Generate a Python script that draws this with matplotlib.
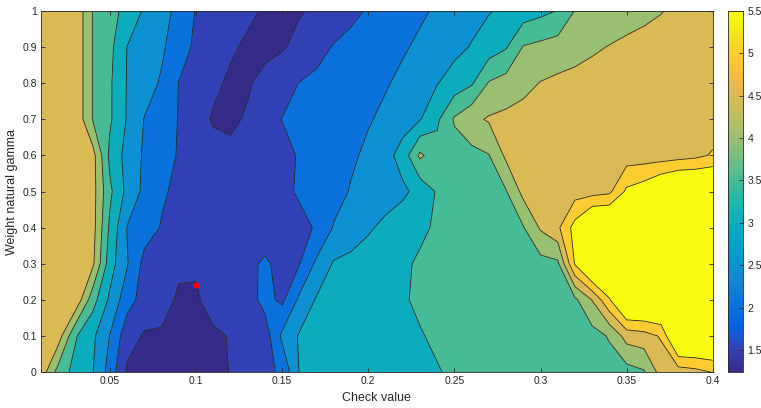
import numpy as np
import matplotlib
matplotlib.use("Agg")
import matplotlib.pyplot as plt
from matplotlib.colors import LinearSegmentedColormap, Normalize
from matplotlib.cm import ScalarMappable

plt.rcParams["font.family"] = ["Liberation Sans", "DejaVu Sans"]

# grid
check_value = [0.01, 0.02, 0.03, 0.04, 0.05, 0.06, 0.07, 0.08, 0.09, 0.10,
               0.11, 0.12, 0.13, 0.14, 0.15, 0.16, 0.17, 0.18, 0.19, 0.20,
               0.21, 0.22, 0.23, 0.24, 0.25, 0.26, 0.27, 0.28, 0.29, 0.30,
               0.31, 0.32, 0.33, 0.34, 0.35, 0.36, 0.37, 0.38, 0.39, 0.40]
weight_gamma = [0.0, 0.1, 0.2, 0.3, 0.4, 0.5, 0.6, 0.7, 0.8, 0.9, 1.0]

score_g00 = [4.8, 3.8, 3.32, 3.02, 2.3, 1.42, 1.3, 1.28, 1.28, 1.28,
             1.33, 1.52, 1.65, 1.85, 2.1, 3.02, 3.08, 3.15, 3.2, 3.26,
             3.32, 3.38, 3.44, 3.48, 3.55, 3.58, 3.6, 3.62, 3.64, 3.66,
             3.68, 3.7, 3.72, 3.75, 3.8, 3.95, 4.7, 4.75, 4.85, 5.02]
score_g01 = [4.8, 4.75, 3.55, 3.1, 2.48, 1.7, 1.45, 1.42, 1.42, 1.43,
             1.44, 1.52, 1.75, 1.75, 2.6, 3.05, 3.12, 3.18, 3.24, 3.3,
             3.36, 3.42, 3.48, 3.55, 3.58, 3.6, 3.62, 3.64, 3.66, 3.68,
             3.7, 3.73, 3.8, 4.05, 4.7, 4.8, 5.05, 6.5, 6.5, 6.5]
score_g02 = [4.85, 4.9, 4.9, 3.7, 2.9, 2.2, 1.8, 1.75, 1.4, 1.45,
             1.65, 1.68, 1.8, 2.15, 1.9, 2.6, 3.05, 3.15, 3.25, 3.33,
             3.4, 3.47, 3.55, 3.6, 3.62, 3.65, 3.68, 3.7, 3.73, 3.76,
             3.8, 3.9, 4.52, 5.45, 6.5, 6.5, 6.5, 6.5, 6.5, 6.5]
score_g03 = [4.85, 4.9, 4.9, 4.6, 3.22, 2.54, 1.85, 1.72, 1.62, 1.55,
             1.58, 1.62, 1.85, 2.1, 1.8, 1.98, 2.6, 3.05, 3.13, 3.22,
             3.32, 3.44, 3.55, 3.6, 3.63, 3.66, 3.7, 3.73, 3.77, 3.82,
             3.9, 5.55, 6.5, 6.5, 6.5, 6.5, 6.5, 6.5, 6.5, 6.5]
score_g04 = [4.85, 4.9, 4.9, 4.7, 3.4, 2.48, 2.21, 1.97, 1.8, 1.68,
             1.6, 1.58, 1.6, 1.65, 1.75, 1.88, 2.04, 2.54, 2.74, 2.94,
             3.11, 3.27, 3.43, 3.55, 3.64, 3.73, 3.82, 3.9, 3.97, 4.56,
             4.9, 5.7, 6.5, 6.5, 6.5, 6.5, 6.5, 6.5, 6.5, 6.5]
score_g05 = [4.85, 4.9, 4.9, 4.7, 3.6, 2.86, 2.38, 2.06, 1.9, 1.75,
             1.65, 1.6, 1.62, 1.72, 1.9, 2.05, 2.1, 2.3, 2.54, 2.66,
             2.79, 2.91, 3.15, 3.55, 3.63, 3.72, 3.82, 3.97, 4.65, 4.72,
             4.75, 4.78, 4.8, 4.9, 5.6, 5.8, 6.2, 6.5, 6.5, 6.5]
score_g06 = [4.85, 4.9, 4.9, 4.7, 3.37, 2.83, 2.43, 2.2, 1.96, 1.8,
             1.68, 1.6, 1.6, 1.7, 1.85, 2.04, 2.17, 2.3, 2.42, 2.6,
             2.82, 3.2, 4.1, 3.7, 3.75, 3.85, 3.98, 4.6, 4.7, 4.75,
             4.75, 4.75, 4.75, 4.75, 4.75, 4.75, 4.75, 4.8, 4.88, 5.05]
score_g07 = [4.85, 4.9, 4.9, 3.98, 3.57, 2.96, 2.48, 2.23, 1.98, 1.72,
             1.45, 1.42, 1.55, 1.79, 2.01, 2.1, 2.19, 2.28, 2.37, 2.46,
             2.6, 2.79, 2.97, 3.41, 4.06, 4.38, 4.55, 4.62, 4.68, 4.72,
             4.75, 4.75, 4.75, 4.75, 4.75, 4.75, 4.75, 4.75, 4.75, 4.75]
score_g08 = [4.85, 4.9, 4.9, 3.98, 3.57, 2.97, 2.72, 2.44, 1.99, 1.79,
             1.6, 1.42, 1.45, 1.64, 1.83, 2.01, 2.1, 2.19, 2.28, 2.37,
             2.46, 2.6, 2.79, 2.98, 3.21, 3.44, 4.04, 4.2, 4.36, 4.52,
             4.6, 4.65, 4.7, 4.72, 4.75, 4.75, 4.75, 4.75, 4.75, 4.75]
score_g09 = [4.85, 4.9, 4.9, 3.98, 3.63, 2.99, 2.79, 2.58, 2.21, 1.91,
             1.74, 1.57, 1.42, 1.38, 1.45, 1.64, 1.85, 2.03, 2.14, 2.24,
             2.35, 2.45, 2.58, 2.72, 2.87, 3.03, 3.24, 3.46, 4.03, 4.13,
             4.22, 4.32, 4.43, 4.52, 4.6, 4.65, 4.7, 4.72, 4.75, 4.75]
score_g10 = [4.85, 4.9, 4.9, 3.98, 3.69, 3.33, 2.94, 2.68, 2.36, 1.97,
             1.84, 1.72, 1.59, 1.45, 1.4, 1.46, 1.58, 1.74, 1.89, 2.04,
             2.17, 2.3, 2.43, 2.56, 2.7, 2.84, 2.97, 3.1, 3.24, 3.37,
             3.52, 4.02, 4.11, 4.2, 4.3, 4.39, 4.48, 4.6, 4.7, 4.75]

best_point = (0.1, 0.241)
contour_levels = [1.5, 2.0, 2.5, 3.0, 3.5, 4.0, 4.5, 5.0, 5.5]
cbar_ticks = [1.5, 2, 2.5, 3, 3.5, 4, 4.5, 5, 5.5]

# MATLAB parula, every 4th entry
_PARULA = [
    (0.2081, 0.1663, 0.5292), (0.1959, 0.2645, 0.7279), (0.0117, 0.3875, 0.8820),
    (0.0498, 0.4586, 0.8641), (0.0793, 0.5200, 0.8312), (0.0343, 0.5966, 0.8199),
    (0.0228, 0.6535, 0.7768), (0.0843, 0.6928, 0.7062), (0.2178, 0.7250, 0.6193),
    (0.3953, 0.7459, 0.5244), (0.5709, 0.7485, 0.4494), (0.7184, 0.7411, 0.3905),
    (0.8507, 0.7299, 0.3360), (0.9739, 0.7314, 0.2666), (0.9880, 0.8066, 0.1794),
    (0.9598, 0.9218, 0.0948), (0.9763, 0.9831, 0.0538),
]
_POS = [i * 4 / 63 for i in range(16)] + [1.0]
parula = LinearSegmentedColormap.from_list("parula", list(zip(_POS, _PARULA)))

_TEXT = (0.15, 0.15, 0.15)

X, Y = np.meshgrid(check_value, weight_gamma)
Z = np.array([score_g00, score_g01, score_g02, score_g03, score_g04, score_g05,
              score_g06, score_g07, score_g08, score_g09, score_g10])

norm = Normalize(vmin=1.24, vmax=5.5)
fill_levels = [0.0] + contour_levels + [9.0]
# MATLAB fills each band with the colour of its lower level
band_colors = [parula(0.0)] + [parula(norm(v)) for v in contour_levels]

fig = plt.figure(figsize=(7.61, 4.08), dpi=100)
ax = fig.add_axes([0.0539, 0.0882, 0.8827, 0.8848])
ax.contourf(X, Y, Z, levels=fill_levels, colors=band_colors)
ax.contour(X, Y, Z, levels=contour_levels, colors=[_TEXT], linewidths=0.6)
ax.plot(*best_point, "o", color="red", markersize=4.5, markeredgewidth=0)

ax.set_xlim(0.01, 0.4)
ax.set_ylim(0, 1)
ax.set_xticks([0.05, 0.1, 0.15, 0.2, 0.25, 0.3, 0.35, 0.4])
ax.set_xticklabels(["0.05", "0.1", "0.15", "0.2", "0.25", "0.3", "0.35", "0.4"])
ax.set_yticks([0, 0.1, 0.2, 0.3, 0.4, 0.5, 0.6, 0.7, 0.8, 0.9, 1])
ax.set_yticklabels(["0", "0.1", "0.2", "0.3", "0.4", "0.5", "0.6", "0.7", "0.8", "0.9", "1"])
ax.tick_params(direction="in", top=True, right=True, length=3, width=0.6,
               labelsize=7.5, colors=_TEXT, pad=3)
for sp in ax.spines.values():
    sp.set_color(_TEXT)
    sp.set_linewidth(0.6)
ax.set_xlabel("Check value", fontsize=9, color=_TEXT, labelpad=4)
ax.set_ylabel("Weight natural gamma", fontsize=9, color=_TEXT, labelpad=3)

cax = fig.add_axes([0.9562, 0.0882, 0.0205, 0.8848])
cb = fig.colorbar(ScalarMappable(norm=norm, cmap=parula), cax=cax, ticks=cbar_ticks)
cb.ax.set_yticklabels(["1.5", "2", "2.5", "3", "3.5", "4", "4.5", "5", "5.5"])
cb.ax.tick_params(direction="in", length=3, width=0.6, labelsize=7.5, colors=_TEXT, pad=3)
cb.outline.set_edgecolor(_TEXT)
cb.outline.set_linewidth(0.6)

fig.savefig("out.png", dpi=100)
